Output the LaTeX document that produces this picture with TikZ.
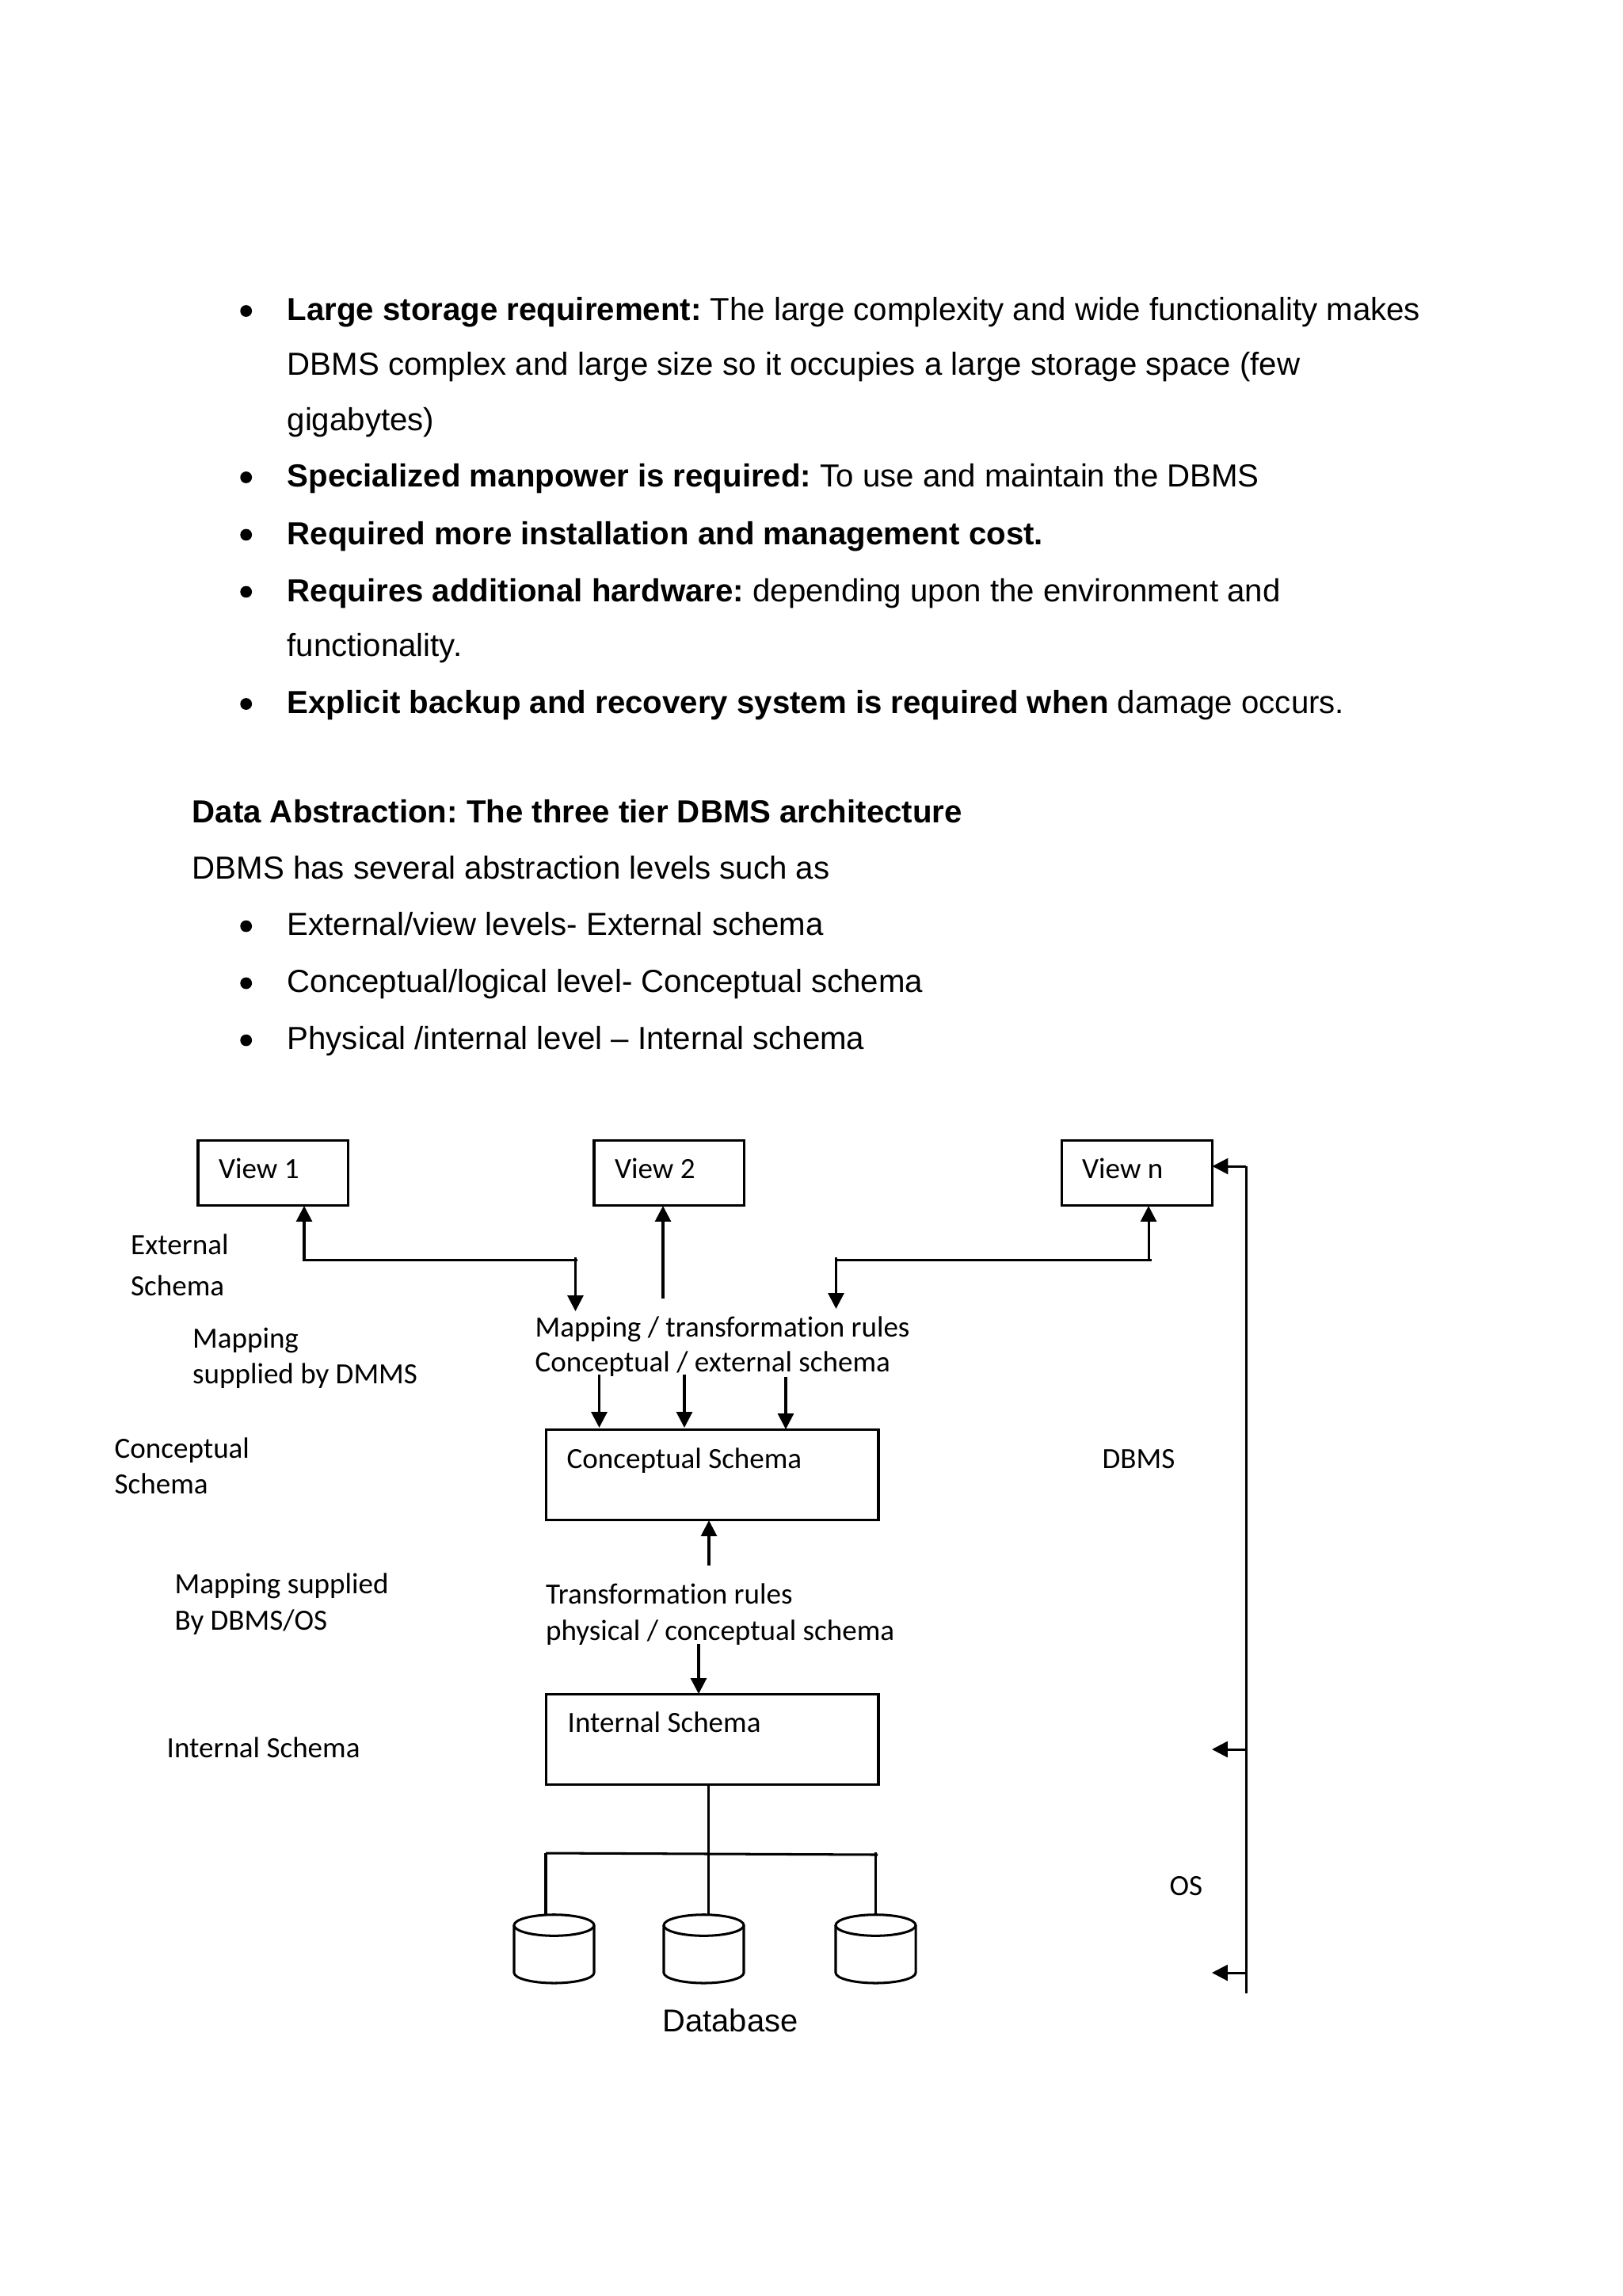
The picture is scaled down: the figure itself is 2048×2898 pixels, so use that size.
\documentclass[tikz,border=0pt]{standalone}
\usepackage{fontspec}
\setmainfont{Liberation Sans}
\newfontfamily\calfont[Ligatures={NoCommon}]{Carlito}
\usetikzlibrary{arrows.meta,calc}
\frenchspacing
\tikzset{
  body/.style={anchor=base west,inner sep=0pt,font=\fontsize{11.69}{14}\selectfont},
  lab/.style={anchor=base west,inner sep=0pt,font=\calfont\fontsize{10.77}{13}\selectfont},
  box/.style={draw,line width=0.9pt,inner sep=0pt,outer sep=0pt,anchor=north west},
  dot/.style={circle,fill=black,inner sep=0pt,outer sep=0pt,minimum size=4.3pt},
  conn/.style={line width=0.88pt},
  arr/.style={conn,-{Triangle[length=5.8pt,width=5.8pt]}},
  cyl/.style={draw,line width=0.88pt,fill=white}
}
\newcommand{\dbcyl}[2]{%
  \draw[cyl] (#1-50.5,2430) -- (#1-50.5,2490) .. controls (#1-50.5,2497) and (#1-28,2503) .. (#1,2503) .. controls (#1+28,2503) and (#1+50.5,2497) .. (#1+50.5,2490) -- (#1+50.5,2430);
  \draw[cyl] (#1,2430) ellipse [x radius=50.5,y radius=13.3];
  \coordinate (#2) at (#1,2417);
}
\begin{document}
\begin{tikzpicture}[x=0.29066pt,y=-0.29066pt]
\useasboundingbox (0,0) rectangle (2048,2898);
% body text
\node[body] (b1a) at (362,404) {\textbf{Large storage requirement:} The large complexity and wide functionality makes};
\node[body] (b1b) at (362,473.5) {DBMS complex and large size so it occupies a large storage space (few};
\node[body] (b1c) at (362,543) {gigabytes)};
\node[body] (b2) at (362,614.5) {\textbf{Specialized manpower is required:} To use and maintain the DBMS};
\node[body] (b3) at (362,687) {\textbf{Required more installation and management cost.}};
\node[body] (b4a) at (362,759) {\textbf{Requires additional hardware:} depending upon the environment and};
\node[body] (b4b) at (362,828.5) {functionality.};
\node[body] (b5) at (362,900) {\textbf{Explicit backup and recovery system is required when} damage occurs.};
\node[body] (h1) at (242,1038.5) {\textbf{Data Abstraction: The three tier DBMS architecture}};
\node[body] (h2) at (242,1109) {DBMS has several abstraction levels such as};
\node[body] (l1) at (362,1180) {External/view levels- External schema};
\node[body] (l2) at (362,1252) {Conceptual/logical level- Conceptual schema};
\node[body] (l3) at (362,1324) {Physical /internal level -- Internal schema};
\foreach \nm/\yy in {p1/392.5,p2/602.5,p3/675,p4/747,p5/888.5,p6/1169,p7/1241,p8/1313}
  \node[dot] (\nm) at (310.7,\yy) {};
% boxes
\node[box,minimum width=189.5*0.29066pt,minimum height=82*0.29066pt] (v1) at (250,1439.5) {};
\node[box,minimum width=189.5*0.29066pt,minimum height=82*0.29066pt] (v2) at (750,1439.5) {};
\node[box,minimum width=190*0.29066pt,minimum height=82*0.29066pt] (vn) at (1340.5,1439.5) {};
\node[box,minimum width=419.5*0.29066pt,minimum height=114*0.29066pt] (cs) at (689.5,1804.5) {};
\node[box,minimum width=419.5*0.29066pt,minimum height=114*0.29066pt] (is) at (689.5,2138.5) {};
% labels
\node[lab] (tv1) at (275.5,1487.5) {View 1};
\node[lab] (tv2) at (775.5,1487.5) {View 2};
\node[lab] (tvn) at (1365.5,1487.5) {View n};
\node[lab] (ext1) at (164.5,1583) {External};
\node[lab] (ext2) at (164.5,1635.5) {Schema};
\node[lab] (map1) at (242.5,1701) {Mapping};
\node[lab] (map2) at (242.5,1746) {supplied by DMMS};
\node[lab] (mt1) at (675,1687) {Mapping / transformation rules};
\node[lab] (mt2) at (675,1731) {Conceptual / external schema};
\node[lab] (con1) at (144,1840.5) {Conceptual};
\node[lab] (con2) at (144,1885.5) {Schema};
\node[lab] (tcs) at (715,1853.5) {Conceptual Schema};
\node[lab] (dbms) at (1391,1853.5) {DBMS};
\node[lab] (ms1) at (220,2011.5) {Mapping supplied};
\node[lab] (ms2) at (220,2057.5) {By DBMS/OS};
\node[lab] (tr1) at (688.5,2024.5) {Transformation rules};
\node[lab] (tr2) at (688.5,2070.5) {physical / conceptual schema};
\node[lab] (tis) at (716,2186) {Internal Schema};
\node[lab] (iss) at (210,2218) {Internal Schema};
\node[lab] (os) at (1476,2392) {OS};
\node[body,font=\fontsize{11.6}{14}\selectfont] (dbt) at (836,2564) {Database};
% cylinders
\dbcyl{699.5}{c1}
\dbcyl{888.5}{c2}
\dbcyl{1105.5}{c3}
% free connector points
\coordinate (j1) at (726.5,1590);
\coordinate (j1e) at (729,1590);
\coordinate (j3) at (1055.5,1590);
\coordinate (j3t) at (1055.5,1587);
\coordinate (jn) at (1450,1590);
\coordinate (jne) at (1454,1590);
\coordinate (m1) at (726.5,1655);
\coordinate (m2) at (837,1639);
\coordinate (m3) at (1055.5,1652);
\coordinate (d1) at (756.5,1735);
\coordinate (d2) at (864,1735);
\coordinate (d3) at (992,1738);
\coordinate (up) at (895,1976);
\coordinate (dn) at (882,2075);
\coordinate (hl) at (689,2339);
\coordinate (hr) at (1108,2341);
\coordinate (hrd) at (1105.5,2338);
\coordinate (r1) at (1573,1472);
\coordinate (r2) at (1573,2208);
\coordinate (r3) at (1573,2490);
\coordinate (r4) at (1573,2516);
% connectors
\draw[arr] (j1e) -- (384,1590) -- (384,1522);
\draw[arr] (726.5,1587) -- (m1);
\draw[arr] (m2) -- (837,1522);
\draw[conn] (j3t) -- (j3) -- (jne);
\draw[arr] (j3) -- (m3);
\draw[arr] (jn) -- (1450,1522);
\draw[arr] (d1) -- (756.5,1802);
\draw[arr] (d2) -- (864,1802);
\draw[arr] (d3) -- (992,1804);
\draw[arr] (up) -- (895,1919);
\draw[arr] (dn) -- (882,2138);
\draw[conn] (894.7,2252) -- (894.7,2417);
\draw[conn] (hl) -- (hr);
\draw[conn] (hl) -- (689,2417);
\draw[conn] (hrd) -- (1105.5,2417);
\draw[conn] (r4) -- (r1);
\draw[arr] (r1) -- (1530.5,1472);
\draw[arr] (r2) -- (1530,2208);
\draw[arr] (r3) -- (1530,2490);
\end{tikzpicture}
\end{document}
